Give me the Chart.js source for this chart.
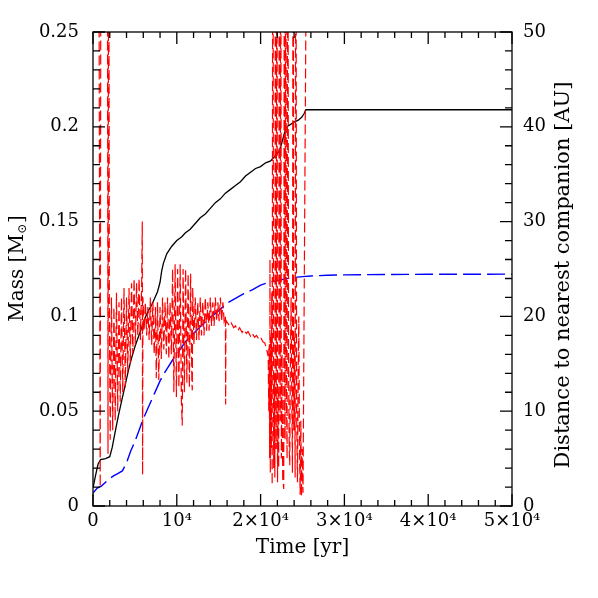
<!DOCTYPE html>
<html>
<head>
<meta charset="utf-8">
<script src="https://cdn.jsdelivr.net/npm/chart.js@4"></script>
<style>
  html, body { margin: 0; padding: 0; background: #fff; }
  #chart-container { width: 598px; height: 598px; }
</style>
</head>
<body>
<div id="chart-container"><canvas id="myChart"></canvas></div>
<script>
// time axis ticks
const xTickLabels = ['0', '10\u2074', '2\u00d710\u2074', '3\u00d710\u2074', '4\u00d710\u2074', '5\u00d710\u2074'];
const massTickLabels = ['0', '0.05', '0.1', '0.15', '0.2', '0.25'];
const distTickLabels = ['0', '10', '20', '30', '40', '50'];

// black solid line: mass [Msun] vs time [yr]
const starTime = [0, 300, 600, 900, 1500, 2000, 2300, 2600, 3000, 3400, 3800, 4200, 4600, 5000, 5400, 5800,
  6200, 6600, 7000, 7400, 7700, 8000, 8200, 8400, 8800, 9400, 10000, 10600, 11000, 11600, 12200, 12800,
  13400, 14000, 14600, 15200, 15800, 16400, 17000, 17600, 18200, 18800, 19400, 20000, 20600, 21200,
  21800, 22200, 22500, 22800, 23100, 23500, 24000, 24500, 24900, 25200, 25400, 50000];
const starMass = [0.0095, 0.016, 0.022, 0.0245, 0.025, 0.026, 0.031, 0.038, 0.047, 0.055, 0.063, 0.071, 0.078, 0.084, 0.089, 0.094,
  0.099, 0.103, 0.106, 0.110, 0.113, 0.118, 0.124, 0.128, 0.133, 0.137, 0.140, 0.142, 0.144, 0.146, 0.149, 0.152,
  0.154, 0.157, 0.160, 0.162, 0.165, 0.167, 0.169, 0.171, 0.174, 0.176, 0.178, 0.179, 0.181, 0.182,
  0.185, 0.187, 0.191, 0.196, 0.200, 0.201, 0.2025, 0.2035, 0.205, 0.207, 0.209, 0.209];

// blue dashed line: companion mass [Msun] vs time [yr]
const compTime = [0, 500, 1000, 1500, 2000, 2500, 3000, 3500, 3800, 4100, 4500, 5000, 5500, 6000, 6500, 7000,
  7500, 8000, 8500, 9000, 9500, 10000, 11000, 12000, 13000, 14000, 15000, 16000, 17000, 18000, 19000,
  20000, 21000, 22000, 23000, 24000, 25000, 26000, 28000, 30000, 35000, 40000, 50000];
const compMass = [0.0068, 0.0095, 0.0105, 0.0125, 0.0145, 0.016, 0.0172, 0.0185, 0.021, 0.024, 0.029, 0.034, 0.040, 0.046, 0.051, 0.056,
  0.061, 0.066, 0.070, 0.0735, 0.077, 0.080, 0.0865, 0.091, 0.0955, 0.0995, 0.103, 0.107, 0.1095, 0.112, 0.114,
  0.1165, 0.118, 0.119, 0.1198, 0.1205, 0.1210, 0.1213, 0.1217, 0.1219, 0.1221, 0.1222, 0.1223];

// red dashed line: distance to nearest companion [AU] vs time [yr]
const sepTime = [650, 860, 960, 1700, 1790, 1870, 1950,
  2050, 2200, 2350, 2500, 2650, 2800, 2950, 3100, 3250, 3400, 3550, 3700, 3850, 4000, 4150, 4300, 4450, 4600,
  4750, 4900, 5050, 5200, 5350, 5500, 5650, 5800, 5880, 5920, 5960,
  6100, 6250, 6400, 6550, 6700, 6850, 7000, 7150, 7300, 7450, 7550, 7700, 7850, 8000, 8150, 8300, 8450,
  8600, 8750, 8900, 9050, 9200, 9350,
  9500, 9650, 9800, 9950, 10100, 10250, 10400, 10550, 10650, 10750, 10900, 11050, 11200, 11350, 11500,
  11650, 11800, 11850, 11900,
  12050, 12200, 12350, 12500, 12650, 12800, 12950, 13100, 13250, 13400, 13550, 13700, 13850, 14000, 14150,
  14300, 14450, 14600, 14750, 14900, 15050, 15200, 15350, 15500, 15650, 15800, 15830, 15860,
  16000, 16300, 16500, 16800, 17000, 17300, 17500, 17800, 18000, 18300, 18500, 18800, 19000, 19300, 19500,
  19800, 20000, 20300, 20500, 20700, 20850,
  20900, 20980, 21040, 21080, 21120, 21160, 21220, 21280, 21330, 21380, 21460, 21560, 21640, 21700, 21780,
  21860, 21940, 22020, 22100, 22160, 22240, 22330, 22400, 22480, 22560, 22640, 22760, 22840, 22920, 23000,
  23080, 23160, 23240, 23340, 23420, 23480, 23560, 23640, 23720, 23800, 23880, 23960, 24040, 24120, 24200,
  24300, 24400, 24480, 24560, 24640, 24720, 24800, 24880, 24960, 25060, 25600];
const sepDist = [80, 2.0, 80, 80, 5.5, 80, 21,
  7, 22, 8, 21, 9, 22.5, 10, 21.5, 11, 22, 12, 23, 12.5, 22, 14, 23, 15, 23.5,
  16, 24, 17, 23.5, 18, 24, 17.5, 23, 30, 3.3, 22,
  18.5, 21.5, 18, 21, 17.5, 22, 17, 21.5, 16, 21, 13.5, 21.5, 13.3, 21, 15.5, 22, 16.5,
  21.5, 16, 22, 15.5, 21.5, 16,
  25, 12, 25.5, 11.5, 25, 12.5, 25.5, 11, 8.5, 25, 12, 25, 13, 24.5, 12.5,
  24.5, 13, 12.2, 23,
  17, 22, 17.5, 21.5, 17.5, 22, 18, 21.5, 18, 22, 18.5, 21.5, 18.5, 22, 19,
  21.5, 19, 22, 19.5, 21.5, 19.5, 22, 19.5, 21.5, 19.5, 20, 10.7, 19.6,
  19.4, 19.0, 19.3, 18.8, 19.0, 18.5, 18.8, 18.3, 18.6, 18.2, 18.4, 17.9, 18.2, 17.8, 18.0,
  17.6, 17.8, 17.3, 17.2, 16.6, 16.0,
  16.2, 10, 17, 5, 26, 3.5, 18, 6, 22.5, 2.2, 80, 4, 14, 3, 80,
  6, 80, 2.5, 12, 4, 80, 9, 80, 5, 16, 3, 1.8, 80, 7, 80,
  12, 5, 80, 14, 6, 4.3, 16, 22, 12, 3.5, 80, 8, 18, 3, 80,
  10, 2.5, 14, 20, 6, 1.2, 9, 1.0, 6, 1.4, 80];

const toPoints = (xs, ys) => xs.map((v, i) => ({ x: v, y: ys[i] }));

const serif = 'DejaVu Serif';

// inward ticks on all four sides, frame and axis titles
const frameAndTitles = {
  id: 'frameAndTitles',
  afterDatasetsDraw(chart) {
    const ctx = chart.ctx;
    const a = chart.chartArea;
    const xs = chart.scales.x, ys = chart.scales.y, ys2 = chart.scales.y2;
    ctx.save();
    ctx.strokeStyle = '#000';
    ctx.lineWidth = 1.3;
    ctx.strokeRect(a.left, a.top, a.right - a.left, a.bottom - a.top);
    ctx.beginPath();
    for (let t = 0; t <= 50000; t += 2000) {
      const px = xs.getPixelForValue(t);
      const len = t % 10000 === 0 ? 12 : 6;
      ctx.moveTo(px, a.bottom); ctx.lineTo(px, a.bottom - len);
      ctx.moveTo(px, a.top); ctx.lineTo(px, a.top + len);
    }
    for (let i = 0; i <= 25; i++) {
      const len = i % 5 === 0 ? 12 : 7;
      const py = ys.getPixelForValue(i * 0.01);
      ctx.moveTo(a.left, py); ctx.lineTo(a.left + len, py);
      const py2 = ys2.getPixelForValue(i * 2);
      ctx.moveTo(a.right, py2); ctx.lineTo(a.right - len, py2);
    }
    ctx.stroke();

    const big = '20px "' + serif + '"', small = '12px "' + serif + '"';
    ctx.fillStyle = '#000';
    ctx.font = big;
    ctx.textBaseline = 'middle';
    ctx.textAlign = 'center';
    ctx.fillText('Time [yr]', (a.left + a.right) / 2, 548);

    // left title with subscript sun symbol
    ctx.save();
    ctx.translate(18, (a.top + a.bottom) / 2);
    ctx.rotate(-Math.PI / 2);
    const p1 = 'Mass [M', sym = '\u2299', p3 = ']';
    ctx.font = big;
    const w1 = ctx.measureText(p1).width, w3 = ctx.measureText(p3).width;
    ctx.font = small;
    const w2 = ctx.measureText(sym).width;
    const x0 = -(w1 + w2 + w3) / 2;
    ctx.textAlign = 'left';
    ctx.font = big;
    ctx.fillText(p1, x0, 0);
    ctx.font = small;
    ctx.fillText(sym, x0 + w1 + 0.5, 5);
    ctx.font = big;
    ctx.fillText(p3, x0 + w1 + w2 + 1, 0);
    ctx.restore();

    ctx.save();
    ctx.translate(564, 275);
    ctx.rotate(-Math.PI / 2);
    ctx.textAlign = 'center';
    ctx.font = '21px "' + serif + '"';
    ctx.fillText('Distance to nearest companion [AU]', 0, 0);
    ctx.restore();
    ctx.restore();
  }
};

const tickFont = { family: serif, size: 18 };

new Chart('myChart', {
  type: 'line',
  data: {
    datasets: [
      {
        data: toPoints(sepTime, sepDist),
        yAxisID: 'y2',
        borderColor: '#ff0000',
        borderWidth: 1.2,
        borderDash: [10, 4],
        pointRadius: 0,
        tension: 0
      },
      {
        data: toPoints(compTime, compMass),
        yAxisID: 'y',
        borderColor: '#0000ff',
        borderWidth: 1.4,
        borderDash: [18, 6],
        pointRadius: 0,
        tension: 0
      },
      {
        data: toPoints(starTime, starMass),
        yAxisID: 'y',
        borderColor: '#000000',
        borderWidth: 1.3,
        pointRadius: 0,
        tension: 0
      }
    ]
  },
  options: {
    animation: false,
    responsive: true,
    maintainAspectRatio: false,
    layout: { padding: { top: 32, left: 0, right: 0, bottom: 0 } },
    plugins: { legend: { display: false }, tooltip: { enabled: false } },
    scales: {
      x: {
        type: 'linear', min: 0, max: 50000,
        grid: { display: false, drawTicks: false },
        border: { display: false },
        ticks: {
          stepSize: 10000, maxRotation: 0, padding: 5, color: '#000', font: tickFont,
          callback: (v, i) => xTickLabels[i]
        },
        afterFit: s => { s.height = 92; }
      },
      y: {
        position: 'left', min: 0, max: 0.25,
        grid: { display: false, drawTicks: false },
        border: { display: false },
        ticks: {
          stepSize: 0.05, padding: 14, color: '#000', font: tickFont,
          callback: (v, i) => massTickLabels[i]
        },
        afterFit: s => { s.width = 93; }
      },
      y2: {
        position: 'right', min: 0, max: 50,
        grid: { display: false, drawTicks: false },
        border: { display: false },
        ticks: {
          stepSize: 10, padding: 11, color: '#000', font: tickFont,
          callback: (v, i) => distTickLabels[i]
        },
        afterFit: s => { s.width = 86; }
      }
    }
  },
  plugins: [frameAndTitles]
});
</script>
</body>
</html>
